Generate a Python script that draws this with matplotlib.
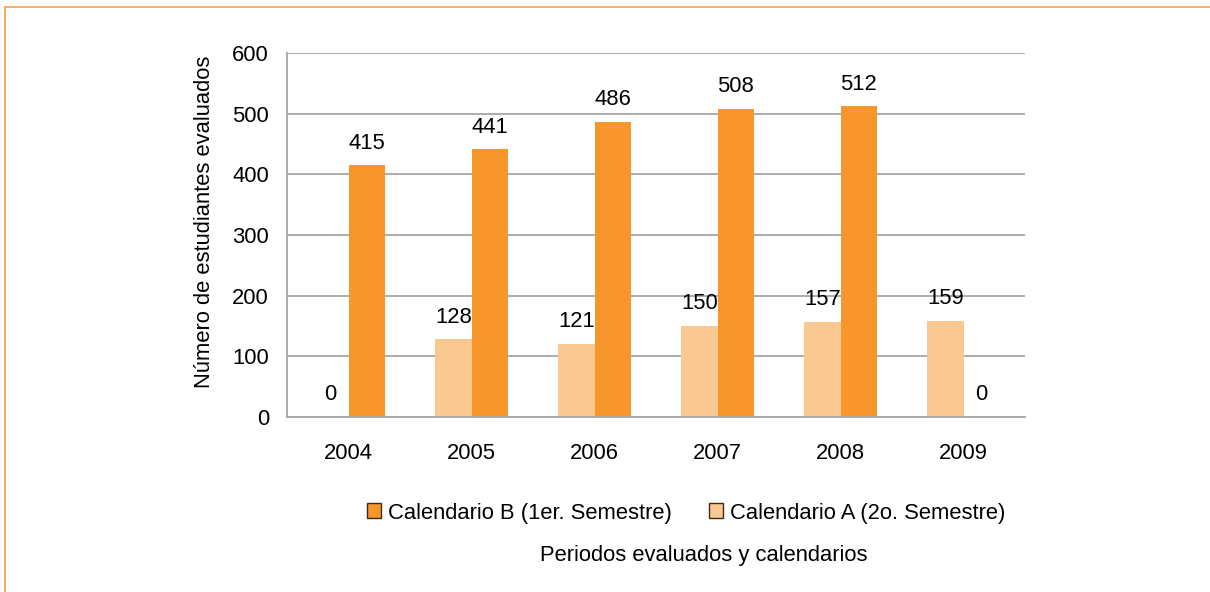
import numpy as np
import matplotlib
matplotlib.use("Agg")
import matplotlib.pyplot as plt
from matplotlib.lines import Line2D

plt.rcParams['font.family'] = ['Liberation Sans', 'DejaVu Sans']

years = ['2004', '2005', '2006', '2007', '2008', '2009']
cal_b = [415, 441, 486, 508, 512, 0]     # Calendario B (1er. Semestre)
cal_a = [0, 128, 121, 150, 157, 159]     # Calendario A (2o. Semestre)

c_b = '#F7962B'
c_a = '#FAC992'
grid_c = '#A6A6A6'
fs = 15.8

fig = plt.figure(figsize=(12.1, 5.92), dpi=100)
ax = fig.add_axes([287/1210, 1-417/592, 738/1210, 364/592])

x = np.arange(len(years))
w = 0.293
ba = ax.bar(x - w/2, cal_a, w, color=c_a, zorder=3)
bb = ax.bar(x + w/2, cal_b, w, color=c_b, zorder=3)

for xi, v in zip(x, cal_a):
    ax.annotate(str(v), (xi - w/2, v), xytext=(0, 16), textcoords='offset points',
                ha='center', va='center', fontsize=fs)
for xi, v in zip(x, cal_b):
    ax.annotate(str(v), (xi + w/2, v), xytext=(0, 16), textcoords='offset points',
                ha='center', va='center', fontsize=fs)

ax.set_xlim(-0.5, len(years) - 0.5)
ax.set_ylim(0, 600)
ax.set_yticks(range(0, 601, 100))
ax.set_xticks(x)
ax.set_xticklabels(years)
ax.yaxis.grid(True, color=grid_c, linewidth=1.3, zorder=0)
ax.set_axisbelow(True)
for s in ['top', 'right']:
    ax.spines[s].set_visible(False)
for s in ['left', 'bottom']:
    ax.spines[s].set_color(grid_c)
    ax.spines[s].set_linewidth(1.3)
    ax.spines[s].set_zorder(4)
ax.tick_params(axis='both', length=0, labelsize=fs, colors='black')
ax.tick_params(axis='x', pad=19)
ax.tick_params(axis='y', pad=13)

ax.set_ylabel('Número de estudiantes evaluados', fontsize=fs, va='center')
ax.yaxis.set_label_coords(-0.112, 0.537)
fig.text(704/1210, 1-556/592, 'Periodos evaluados y calendarios', fontsize=fs,
         ha='center', va='center')

leg = fig.legend([bb, ba], ['Calendario B (1er. Semestre)', 'Calendario A (2o. Semestre)'],
                 loc='center', bbox_to_anchor=(686/1210, 1-513/592), ncol=2,
                 frameon=False, fontsize=fs, handlelength=0.65, handleheight=0.65,
                 handletextpad=0.3, columnspacing=1.7)
for h in leg.legend_handles:
    h.set_edgecolor('#3a2a1a')
    h.set_linewidth(1.0)

# outer frame
fig.add_artist(Line2D([5/1210, 1], [1-7/592, 1-7/592], color='#F5A24A', linewidth=1.2))
fig.add_artist(Line2D([5/1210, 5/1210], [0, 1-7/592], color='#F5A24A', linewidth=1.2))

fig.savefig('out.png', dpi=100)
